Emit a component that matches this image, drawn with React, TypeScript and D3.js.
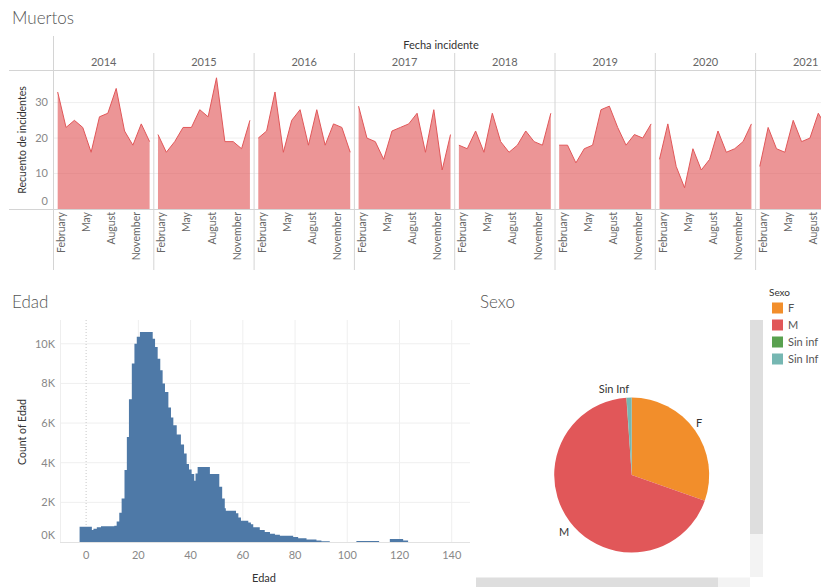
import React from 'react';
import * as d3 from 'd3';

// ---------- Muertos (area by month, faceted by year) ----------
const years = ['2014', '2015', '2016', '2017', '2018', '2019', '2020', '2021'];
const months = ['January', 'February', 'March', 'April', 'May', 'June', 'July', 'August', 'September', 'October', 'November', 'December'];
const muertos2014 = [33, 23, 25, 23, 16, 26, 27, 34, 22, 18, 24, 19];
const muertos2015 = [21, 16, 19, 23, 23, 28, 26, 37, 19, 19, 17, 25];
const muertos2016 = [20, 22, 33, 16, 25, 28, 18, 28, 18, 24, 23, 16];
const muertos2017 = [29, 20, 19, 14, 22, 23, 24, 27, 16, 28, 11, 21];
const muertos2018 = [18, 17, 22, 16, 27, 19, 16, 18, 22, 19, 18, 27];
const muertos2019 = [18, 18, 13, 17, 18, 28, 29, 23, 18, 21, 20, 24];
const muertos2020 = [14, 24, 12, 6, 17, 11, 14, 22, 16, 17, 19, 24];
const muertos2021 = [12, 23, 17, 16, 25, 19, 20, 27, 23];
const muertosPorAnio = [muertos2014, muertos2015, muertos2016, muertos2017, muertos2018, muertos2019, muertos2020, muertos2021];
const muertosTicks = [0, 10, 20, 30];
const mesEtiquetas = ['February', 'May', 'August', 'November'];

// ---------- Edad (histogram) ----------
const edadBordes = [-2.5, 2.2, 2.8, 4.1, 5.7, 10.8, 11.7, 12.7, 13.6, 14.7, 15.6, 16.4, 17.5, 18.5, 19.4, 20.6, 25.5, 26.4, 27.4, 28.4, 29.3, 30.2, 31.5, 32.5, 33.4, 34.7, 36.3, 37.5, 38.5, 39.4, 40.4, 41.4, 41.9, 42.7, 47.4, 51.0, 52.1, 53.1, 53.5, 57.4, 58.3, 59.3, 62.1, 63.1, 64.0, 66.5, 68.4, 70.4, 72.3, 74.2, 79.3, 81.2, 84.4, 88.2, 90.1, 93.3, 103.5, 112.2, 116.3, 121.4, 123.3];
const edadConteo = [770, 600, 670, 740, 790, 820, 1040, 1480, 2200, 3630, 5300, 7200, 9000, 10000, 10350, 10600, 10260, 9840, 9250, 8660, 8000, 7570, 6790, 6280, 5890, 5420, 4920, 4470, 3930, 3660, 3430, 3090, 3460, 3790, 3430, 2790, 2200, 1700, 1580, 1450, 1240, 1070, 990, 900, 750, 600, 510, 420, 370, 320, 250, 190, 120, 70, 40, 0, 50, 0, 150, 80];
const edadTicksX = [0, 20, 40, 60, 80, 100, 120, 140];
const edadTicksY = [0, 2000, 4000, 6000, 8000, 10000];

// ---------- Sexo (pie) ----------
const sexoCategorias = ['F', 'M', 'Sin inf', 'Sin Inf'];
const sexoValores = [30.4, 68.5, 0.05, 1.05];
const sexoColores = ['#f28e2b', '#e15759', '#59a14f', '#76b7b2'];

const FONT = 'Lato, "Open Sans", sans-serif';

function Muertos() {
  const left = 53.5;
  const panelW = 100.3;
  const xPanel = d3.scaleBand<string>().domain(years).range([left, left + panelW * years.length]);
  const xMonth = d3.scalePoint<string>().domain(months).range([0, xPanel.bandwidth()]).padding(0.5);
  const y = d3.scaleLinear().domain([0, 39.2]).range([209, 70]);

  return (
    <g fontFamily={FONT}>
      <text x={12} y={24} fontSize={17} fill="#555" fontWeight={300}>Muertos</text>
      <text x={441} y={49} fontSize={11} fill="#333" textAnchor="middle">Fecha incidente</text>
      {muertosTicks.filter(t => t > 0).map(t => (
        <line key={t} x1={left} x2={821} y1={y(t)} y2={y(t)} stroke="#efefef" />
      ))}
      <line x1={9} x2={821} y1={70.5} y2={70.5} stroke="#d4d4d4" />
      <line x1={9} x2={821} y1={209.5} y2={209.5} stroke="#d4d4d4" />
      <line x1={left} x2={left} y1={36} y2={270} stroke="#d4d4d4" />
      {years.slice(1).map(yr => (
        <line key={yr} x1={xPanel(yr)!} x2={xPanel(yr)!} y1={53} y2={270} stroke="#d4d4d4" />
      ))}
      {years.map((yr, k) => {
        const px = xPanel(yr)!;
        const data = muertosPorAnio[k];
        const area = d3.area<number>()
          .x((_, i) => px + xMonth(months[i])!)
          .y0(y(0))
          .y1(d => y(d));
        const line = d3.line<number>()
          .x((_, i) => px + xMonth(months[i])!)
          .y(d => y(d));
        return (
          <g key={yr}>
            <text x={px + xPanel.bandwidth() / 2} y={66} fontSize={11} fill="#666" textAnchor="middle">{yr}</text>
            <path d={area(data)!} fill="#e15759" fillOpacity={0.63} />
            <path d={line(data)!} fill="none" stroke="#e15759" strokeWidth={1} />
            {mesEtiquetas.filter(m => px + xMonth(m)! - 4.6 < 819).map(m => {
              const mx = px + xMonth(m)! - 4.6;
              return (
                <text key={m} x={mx} y={212} fontSize={10.5} fill="#666" textAnchor="end" dy="0.35em"
                  transform={`rotate(-90 ${mx} 212)`}>{m}</text>
              );
            })}
          </g>
        );
      })}
      {muertosTicks.map(t => (
        <text key={t} x={48} y={t === 0 ? 201 : y(t)} dy="0.35em" fontSize={11} fill="#888" textAnchor="end">{t}</text>
      ))}
      <text x={22} y={140} fontSize={10.5} fill="#333" textAnchor="middle" dy="0.35em"
        transform="rotate(-90 22 140)">Recuento de incidentes</text>
    </g>
  );
}

function Edad() {
  const x = d3.scaleLinear().domain([-10, 147]).range([60, 470]);
  const y = d3.scaleLinear().domain([0, 11200]).range([542, 320]);
  const fmt = (v: number) => `${v / 1000}K`;
  const pts: [number, number][] = edadConteo.map((c, i) => [edadBordes[i], c]);
  pts.push([edadBordes[edadBordes.length - 1], 0]);
  const area = d3.area<[number, number]>()
    .x(d => x(d[0]))
    .y0(y(0))
    .y1(d => y(d[1]))
    .curve(d3.curveStepAfter);
  return (
    <g fontFamily={FONT}>
      <text x={12} y={308} fontSize={17} fill="#555" fontWeight={300}>Edad</text>
      {edadTicksY.filter(t => t > 0).map(t => (
        <line key={t} x1={60} x2={470} y1={y(t)} y2={y(t)} stroke="#efefef" />
      ))}
      {edadTicksX.filter(t => t !== 0).map(t => (
        <line key={t} x1={x(t)} x2={x(t)} y1={320} y2={542} stroke="#efefef" />
      ))}
      <line x1={60.5} x2={60.5} y1={320} y2={542} stroke="#eeeeee" />
      <line x1={x(0)} x2={x(0)} y1={320} y2={542} stroke="#c8c8c8" strokeDasharray="1 2" />
      <path d={area(pts)!} fill="#4e79a7" />
      <line x1={60} x2={470} y1={542.5} y2={542.5} stroke="#e2e2e2" />
      {edadTicksY.map(t => (
        <text key={t} x={55} y={t === 0 ? 535 : y(t)} dy="0.35em" fontSize={11} fill="#888" textAnchor="end">{fmt(t)}</text>
      ))}
      {edadTicksX.map(t => (
        <text key={t} x={x(t)} y={555} dy="0.35em" fontSize={11} fill="#888" textAnchor="middle">{t}</text>
      ))}
      <text x={264} y={578} dy="0.35em" fontSize={11} fill="#333" textAnchor="middle">Edad</text>
      <text x={22} y={432} fontSize={10.5} fill="#333" textAnchor="middle" dy="0.35em"
        transform="rotate(-90 22 432)">Count of Edad</text>
    </g>
  );
}

function Sexo() {
  const cx = 631.7, cy = 475, r = 77.5;
  const pie = d3.pie<number>().sort(null).value(d => d);
  const arcs = pie(sexoValores);
  const arc = d3.arc<d3.PieArcDatum<number>>().innerRadius(0).outerRadius(r);
  return (
    <g fontFamily={FONT}>
      <text x={480} y={308} fontSize={17} fill="#555" fontWeight={300}>Sexo</text>
      <g transform={`translate(${cx},${cy})`}>
        {arcs.map((a, i) => (
          <path key={sexoCategorias[i]} d={arc(a)!} fill={sexoColores[i]} />
        ))}
      </g>
      <text x={699} y={423} dy="0.35em" fontSize={11} fill="#333" textAnchor="middle">{sexoCategorias[0]}</text>
      <text x={564} y={532} dy="0.35em" fontSize={11} fill="#333" textAnchor="middle">{sexoCategorias[1]}</text>
      <text x={614} y={389} dy="0.35em" fontSize={11} fill="#333" textAnchor="middle">{sexoCategorias[3]}</text>
      {/* scrollbars */}
      <rect x={750} y={320} width={13} height={214} fill="#dedede" />
      <rect x={750} y={534} width={13} height={43} fill="#f3f3f3" />
      <rect x={476} y={577.5} width={242} height={10} fill="#dedede" />
      <rect x={718} y={577.5} width={32} height={10} fill="#f3f3f3" />
      {/* legend */}
      <text x={769} y={292} dy="0.35em" fontSize={10} fill="#333">Sexo</text>
      {sexoCategorias.map((c, i) => (
        <g key={c}>
          <rect x={772} y={302.5 + i * 17} width={11} height={11} fill={sexoColores[i]} />
          <text x={788} y={308 + i * 17} dy="0.35em" fontSize={11} fill="#555">{c}</text>
        </g>
      ))}
    </g>
  );
}

export default function App() {
  return (
    <svg width={821} height={587} viewBox="0 0 821 587"
      style={{ position: 'absolute', left: 0, top: 0, background: '#fff', display: 'block' }}>
      <rect width={821} height={587} fill="#fff" />
      <Muertos />
      <Edad />
      <Sexo />
    </svg>
  );
}
